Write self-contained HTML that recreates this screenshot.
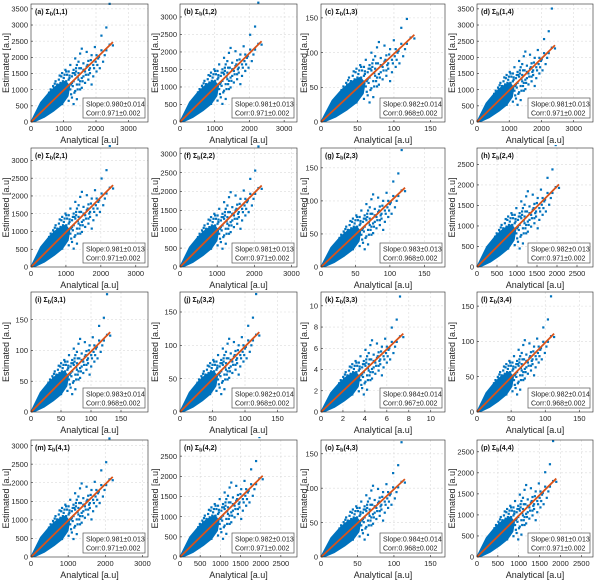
<!DOCTYPE html>
<html><head><meta charset="utf-8"><style>
html,body{margin:0;padding:0;background:#fff;}
svg{display:block;font-family:"Liberation Sans",sans-serif;}
</style></head><body>
<svg id="fig" width="600" height="584" viewBox="0 0 600 584"></svg>
<script>
const panelLabels=["(a)","(b)","(c)","(d)","(e)","(f)","(g)","(h)","(i)","(j)","(k)","(l)","(m)","(n)","(o)","(p)"];
const panelIdx=["1,1","1,2","1,3","1,4","2,1","2,2","2,3","2,4","3,1","3,2","3,3","3,4","4,1","4,2","4,3","4,4"];
const slopeText=["0.980±0.014","0.981±0.013","0.982±0.014","0.981±0.013","0.981±0.013","0.981±0.013","0.983±0.013","0.982±0.013","0.983±0.014","0.982±0.014","0.984±0.014","0.982±0.014","0.981±0.013","0.982±0.013","0.984±0.014","0.981±0.013"];
const corrText=["0.971±0.002","0.971±0.002","0.968±0.002","0.971±0.002","0.971±0.002","0.971±0.002","0.968±0.002","0.971±0.002","0.968±0.002","0.968±0.002","0.967±0.002","0.968±0.002","0.971±0.002","0.971±0.002","0.968±0.002","0.971±0.002"];
const xMax=[3600,3370,170,3600,3350,3150,180,2900,195,180,11.3,170,3150,2900,170,2780];
const yMax=[3650,3370,170,3650,3350,3150,180,2900,195,180,11.3,170,3150,2900,170,2780];
const xTickSets=[[0,1000,2000,3000],[0,1000,2000,3000],[0,50,100,150],[0,1000,2000,3000],[0,1000,2000,3000],[0,1000,2000,3000],[0,50,100,150],[0,500,1000,1500,2000,2500],[0,50,100,150],[0,50,100,150],[0,2,4,6,8,10],[0,50,100,150],[0,1000,2000,3000],[0,500,1000,1500,2000,2500],[0,50,100,150],[0,500,1000,1500,2000,2500]];
const yTickSets=[[0,500,1000,1500,2000,2500,3000,3500],[0,500,1000,1500,2000,2500,3000],[0,50,100,150],[0,500,1000,1500,2000,2500,3000,3500],[0,500,1000,1500,2000,2500,3000],[0,500,1000,1500,2000,2500,3000],[0,50,100,150],[0,500,1000,1500,2000,2500],[0,50,100,150],[0,50,100,150],[0,2,4,6,8,10],[0,50,100,150],[0,500,1000,1500,2000,2500,3000],[0,500,1000,1500,2000,2500],[0,50,100,150],[0,500,1000,1500,2000,2500]];
const lineEnd=[2520,2350,128,2420,2350,2200,122,2050,132,122,7.5,113,2200,2050,115,1900];
const slopes=[0.98,0.981,0.982,0.981,0.981,0.981,0.983,0.982,0.983,0.982,0.984,0.982,0.981,0.982,0.984,0.981];
const scatterU=[0.96,0.92,0.86,0.96,1.0,0.78,0.80,0.74,0.70,0.68,0.62,0.60,0.64,0.66,0.72,0.76,0.82,0.88,0.84,0.58,0.56,0.54,0.52,0.50,0.48,0.46,0.60,0.62,0.56,0.54,0.50,0.48,0.46,0.44,0.42,0.40,0.38,0.44,0.50,0.56,0.66,0.70,0.74,0.36,0.34,0.32,0.30,0.40,0.46,0.52,0.28,0.26,0.38,0.58,0.64,0.68,0.86,0.90,0.92,0.76,0.80,0.53,0.47,0.43,0.39,0.35,0.33,0.31,0.45,0.51,0.57,0.61,0.63,0.70,0.72,
0.55,0.52,0.49,0.41,0.37,0.29,0.27,0.24,0.22,0.49,0.53,0.57,0.59,0.43,0.41,0.35,0.33,0.39,0.47,0.51,0.55,0.59,0.62,0.65,0.67,0.69,0.71,0.73,0.77,0.79,0.81,0.83,0.60,0.64,0.58,0.54,0.42,0.36,0.30,0.25];
const scatterV=[1.45,1.16,1.06,0.95,0.94,0.92,0.82,0.82,0.75,0.86,0.90,0.84,0.72,0.62,0.60,0.70,0.78,0.74,0.66,0.60,0.70,0.78,0.64,0.56,0.70,0.62,0.50,0.42,0.46,0.38,0.48,0.40,0.52,0.58,0.64,0.54,0.60,0.34,0.30,0.28,0.48,0.52,0.46,0.48,0.52,0.46,0.50,0.28,0.26,0.22,0.42,0.38,0.22,0.52,0.56,0.68,0.88,0.82,0.88,0.56,0.62,0.60,0.57,0.50,0.44,0.41,0.36,0.40,0.45,0.44,0.55,0.66,0.50,0.58,0.66,
0.66,0.50,0.46,0.58,0.56,0.47,0.44,0.40,0.36,0.34,0.36,0.40,0.46,0.62,0.46,0.57,0.44,0.50,0.54,0.60,0.62,0.66,0.54,0.64,0.58,0.70,0.64,0.76,0.66,0.74,0.70,0.80,0.40,0.64,0.74,0.58,0.40,0.32,0.30,0.20];
const coreU=[0,0.12,0.22,0.32,0.42,0.47,0.45,0.38,0.28,0.16,0.05];
const coreV=[0,0.24,0.36,0.45,0.50,0.44,0.32,0.22,0.14,0.06,0.01];

const colL=[31,180,321,477], colR=[148,297,445,593];
const rowT=[4,148,292,440], rowB=[122,267,412,557];
const NS="http://www.w3.org/2000/svg";
const fig=document.getElementById('fig');
function mk(tag,attrs,parent){const e=document.createElementNS(NS,tag);for(const k in attrs)e.setAttribute(k,attrs[k]);(parent||fig).appendChild(e);return e;}

for(let p=0;p<16;p++){
  const c=p%4,r=Math.floor(p/4);
  const L=colL[c],R=colR[c],T=rowT[r],B=rowB[r];
  const sx=v=>L+(v/xMax[p])*(R-L);
  const sy=v=>B-(v/yMax[p])*(B-T);
  const g=mk('g',{});
  
  
  const cp=mk('clipPath',{id:'clip'+p},g);
  mk('rect',{x:L,y:T-3,width:R-L,height:B-T+3},cp);
  mk('rect',{x:L,y:T,width:R-L,height:B-T,fill:'#fff'},g);
  const grid=mk('g',{stroke:'#dcdcdc','stroke-width':0.6,'stroke-dasharray':'2,2'},g);
  
  
  xTickSets[p].forEach(t=>{if(t>0)mk('line',{x1:sx(t),x2:sx(t),y1:T,y2:B},grid);});
  yTickSets[p].forEach(t=>{if(t>0)mk('line',{x1:L,x2:R,y1:sy(t),y2:sy(t)},grid);});
  const sc=mk('g',{fill:'#0072BD','clip-path':'url(#clip'+p+')'},g);
  
  
  const Le=lineEnd[p];
  let pts=coreU.map((u,i)=>sx(u*Le)+','+sy(coreV[i]*Le)).join(' ');
  const core=mk('polygon',{points:pts,stroke:'#0072BD','stroke-width':1.5,'stroke-linejoin':'round'},sc);
  
  
  scatterU.forEach((u,i)=>{
    const d=mk('rect',{x:sx(u*Le)-1.1,y:sy(scatterV[i]*Le)-1.1,width:2.2,height:2.2},sc);
    
    
  });
  const ln=mk('line',{x1:sx(0),y1:sy(0),x2:sx(Le),y2:sy(Le*slopes[p]),stroke:'#D95319','stroke-width':1.8},g);
  
  
  const bx=mk('rect',{x:L,y:T,width:R-L,height:B-T,fill:'none',stroke:'#262626','stroke-width':0.6},g);
  
  
  xTickSets[p].forEach(t=>{
    mk('line',{x1:sx(t),x2:sx(t),y1:B,y2:B-2,stroke:'#262626','stroke-width':0.6},g);
    const tx=mk('text',{x:sx(t),y:B+9,'font-size':7.5,'text-anchor':'middle',fill:'#262626'},g);
    tx.textContent=t;
    
    
  });
  yTickSets[p].forEach(t=>{
    mk('line',{x1:L,x2:L+2,y1:sy(t),y2:sy(t),stroke:'#262626','stroke-width':0.6},g);
    const ty=mk('text',{x:L-3,y:sy(t)+2.7,'font-size':7.5,'text-anchor':'end',fill:'#262626'},g);
    ty.textContent=t;
    
    
  });
  const xl=mk('text',{x:(L+R)/2,y:B+21,'font-size':9,'text-anchor':'middle',fill:'#262626'},g);
  xl.textContent='Analytical [a.u]';
  
  
  const yo=(c===2)?14:22;
  const yl=mk('text',{x:0,y:0,'font-size':9,'text-anchor':'middle',fill:'#262626',transform:'translate('+(L-yo)+','+((T+B)/2)+') rotate(-90)'},g);
  yl.textContent='Estimated [a.u]';
  
  
  const pt=mk('text',{x:L+4,y:T+10,'font-size':7,'font-weight':'bold',fill:'#111'},g);
  
  
  pt.appendChild(document.createTextNode(panelLabels[p]+' Σ'));
  const sub=mk('tspan',{'font-size':5.5,dy:1.5},pt);sub.textContent='b';
  const rest=mk('tspan',{dy:-1.5},pt);rest.textContent='('+panelIdx[p]+')';
  const lg=mk('g',{},g);
  
  
  const bw=62,bh=20;
  mk('rect',{x:R-bw-3,y:B-bh-4,width:bw,height:bh,fill:'#fff',stroke:'#555','stroke-width':0.7},lg);
  const t1=mk('text',{x:R-bw,y:B-bh+4.5,'font-size':7,fill:'#222'},lg);t1.textContent='Slope:'+slopeText[p];
  const t2=mk('text',{x:R-bw,y:B-bh+13.5,'font-size':7,fill:'#222'},lg);t2.textContent='Corr:'+corrText[p];
}
</script>
</body></html>
